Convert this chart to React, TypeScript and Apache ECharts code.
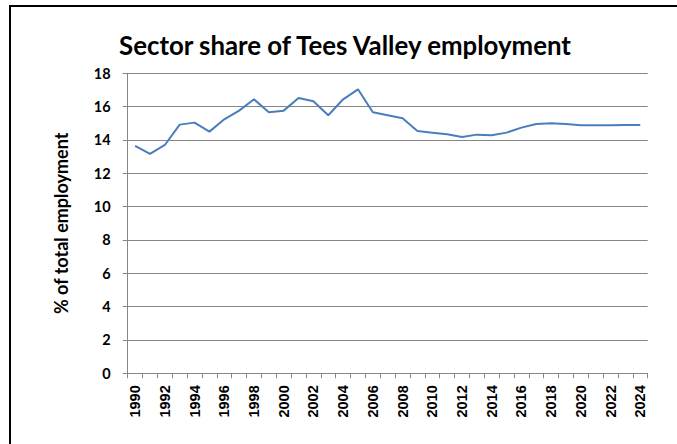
import React, { useEffect, useRef } from "react";
import * as echarts from "echarts";

const years: string[] = [
  "1990", "1991", "1992", "1993", "1994", "1995", "1996", "1997", "1998", "1999",
  "2000", "2001", "2002", "2003", "2004", "2005", "2006", "2007", "2008", "2009",
  "2010", "2011", "2012", "2013", "2014", "2015", "2016", "2017", "2018", "2019",
  "2020", "2021", "2022", "2023", "2024",
];

const sharePct: number[] = [
  13.65, 13.16, 13.7, 14.92, 15.04, 14.5, 15.24, 15.76, 16.44, 15.66,
  15.76, 16.52, 16.32, 15.48, 16.44, 17.04, 15.66, 15.48, 15.3, 14.54,
  14.44, 14.34, 14.18, 14.32, 14.28, 14.44, 14.74, 14.96, 15.0, 14.96,
  14.88, 14.88, 14.88, 14.9, 14.9,
];

const titleText = "Sector share of Tees Valley employment";
const yAxisName = "% of total employment";

export default function App() {
  const ref = useRef<HTMLDivElement>(null);
  useEffect(() => {
    document.body.style.margin = "0";
    const chart = echarts.init(ref.current!, undefined, { renderer: "svg" });
    chart.setOption({
      animation: false,
      backgroundColor: "#ffffff",
      title: {
        text: titleText,
        left: 340,
        textAlign: "center",
        top: 27,
        textStyle: {
          fontFamily: "Lato",
          fontWeight: "bold",
          fontSize: 25.8,
          color: "#000000",
        },
      },
      graphic: [
        {
          type: "polyline",
          shape: { points: [[10, 460], [10, 6], [700, 6]] },
          style: { stroke: "#000000", lineWidth: 2, fill: "none" },
          z: 100,
        },
      ],
      grid: { left: 127.7, right: 29.3, top: 73.3, bottom: 70.7 },
      xAxis: {
        type: "category",
        data: years,
        boundaryGap: true,
        axisLine: { lineStyle: { color: "#868686", width: 1 } },
        axisTick: { show: true, length: 5, interval: 0, lineStyle: { color: "#868686" } },
        axisLabel: {
          interval: 1,
          rotate: 90,
          margin: 12,
          fontFamily: "Liberation Sans",
          fontWeight: "bold",
          fontSize: 14.5,
          color: "#000000",
        },
        splitLine: { show: false },
      },
      yAxis: {
        type: "value",
        min: 0,
        max: 18,
        interval: 2,
        name: yAxisName,
        nameLocation: "middle",
        nameGap: 58,
        nameTextStyle: {
          fontFamily: "Lato",
          fontWeight: "bold",
          fontSize: 18,
          color: "#000000",
        },
        axisLine: { show: true, lineStyle: { color: "#868686", width: 1 } },
        axisTick: { show: true, length: 5, lineStyle: { color: "#868686" } },
        axisLabel: {
          margin: 17,
          fontFamily: "Lato",
          fontWeight: "bold",
          fontSize: 14.5,
          color: "#000000",
        },
        splitLine: { show: true, lineStyle: { color: "#868686", width: 1 } },
      },
      series: [
        {
          type: "line",
          data: sharePct,
          symbol: "none",
          lineStyle: { color: "#4a7ebb", width: 2 },
          itemStyle: { color: "#4a7ebb" },
        },
      ],
    });
    return () => chart.dispose();
  }, []);
  return (
    <div
      ref={ref}
      style={{ position: "absolute", left: 0, top: 0, width: 677, height: 444 }}
    />
  );
}
